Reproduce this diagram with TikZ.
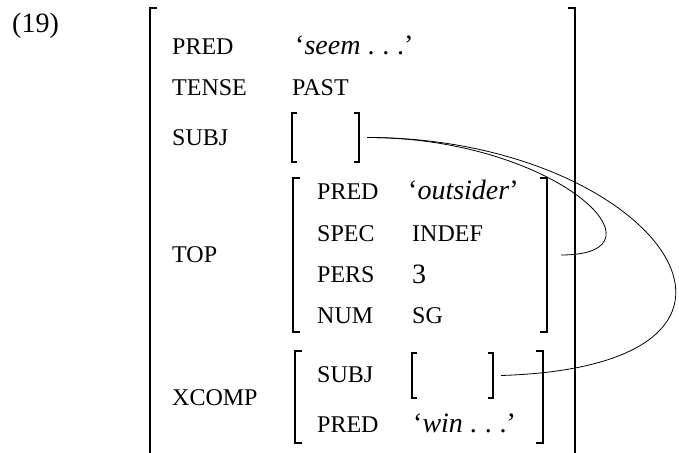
\documentclass[tikz,border=0pt]{standalone}
\usepackage{fontspec}
\setmainfont{Liberation Serif}
\usepackage{tikz}
\tikzset{every edge/.style={draw, line width=0.8pt}}
\tikzset{
  attr/.style={anchor=base west, inner sep=0pt, font=\fontsize{24}{28}\selectfont},
  val/.style={anchor=base west, inner sep=0pt, font=\fontsize{28}{32}\selectfont},
  fsbox/.style={inner sep=0pt, outer sep=0pt},
}
% square brackets round an (empty) box node
\newcommand{\avmbrk}[2][7]{%
  \draw[line width=1.6pt] (#2.north west) ++(#1,0) -- (#2.north west) -- (#2.south west) -- ++(#1,0);
  \draw[line width=1.6pt] (#2.north east) ++(-#1,0) -- (#2.north east) -- (#2.south east) -- ++(-#1,0);
}
\newcommand{\spdots}{.\hspace{0.28em}.\hspace{0.28em}.}

\begin{document}
\begin{tikzpicture}[x=1pt, y=-1pt]
    \useasboundingbox (0,0) rectangle (679,452);

    \node[val] at (12, 33) (ex) {(19)};

    % outer structure (runs off the page at the bottom)
    \node[fsbox, minimum width=425pt, minimum height=470pt] at (362.5, 243) (fs) {};
    \avmbrk{fs}

    \node[attr] at (172, 55) (pred) {PRED};
    \node[val] at (295, 55) (predv) {`\textit{seem} \spdots'};
    \node[attr] at (172, 95) (tense) {TENSE};
    \node[attr] at (292, 95) (tensev) {PAST};
    \node[attr] at (172, 145) (subj) {SUBJ};
    \node[fsbox, minimum width=67pt, minimum height=49pt] at (325.5, 137.5) (subjv) {};
    \avmbrk[5]{subjv}

    % TOP
    \node[attr] at (172, 262) (top) {TOP};
    \node[fsbox, minimum width=254pt, minimum height=154pt] at (420, 255) (topv) {};
    \avmbrk{topv}
    \node[attr] at (317, 199) (tpred) {PRED};
    \node[val] at (408, 199) (tpredv) {`\textit{outsider}'};
    \node[attr] at (317, 241) (tspec) {SPEC};
    \node[attr] at (412, 241) (tspecv) {INDEF};
    \node[attr] at (317, 282) (tpers) {PERS};
    \node[val] at (412, 283) (tpersv) {3};
    \node[attr] at (317, 323) (tnum) {NUM};
    \node[attr] at (412, 323) (tnumv) {SG};

    % XCOMP
    \node[attr] at (172, 405) (xcomp) {XCOMP};
    \node[fsbox, minimum width=248pt, minimum height=92pt] at (419, 397) (xcompv) {};
    \avmbrk{xcompv}
    \node[attr] at (317, 382) (xsubj) {SUBJ};
    \node[fsbox, minimum width=81pt, minimum height=45pt] at (452.5, 375.5) (xsubjv) {};
    \avmbrk[5]{xsubjv}
    \node[attr] at (317, 432) (xpred) {PRED};
    \node[val] at (413, 432) (xpredv) {`\textit{win} \spdots'};

    % structure sharing
    \draw[line width=0.8pt] ([xshift=8pt]subjv.east)
        .. controls +(290,0) and +(320,-10) .. ([xshift=8pt]xsubjv.east);
    \draw[line width=0.8pt] ([xshift=8pt]subjv.east)
        .. controls +(190,0) and +(115,0) .. ([xshift=14pt]topv.east);

\end{tikzpicture}
\end{document}
